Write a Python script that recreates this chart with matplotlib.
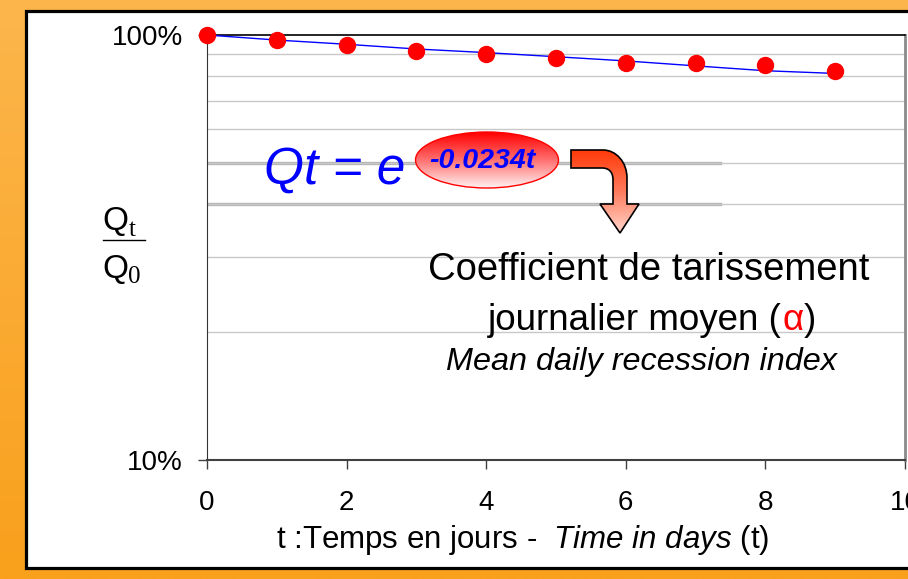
"""
Courbe de tarissement : Qt/Q0 en fonction du temps (échelle log).
"""

import numpy as np
import matplotlib
matplotlib.use("Agg")
import matplotlib.pyplot as plt
from matplotlib.patches import Rectangle, Ellipse, PathPatch
from matplotlib.path import Path
from matplotlib.colors import LinearSegmentedColormap
from matplotlib.ticker import FixedLocator, NullFormatter

plt.rcParams["font.family"] = ["Liberation Sans", "DejaVu Sans"]
plt.rcParams["mathtext.fontset"] = "custom"
plt.rcParams["mathtext.rm"] = "Liberation Sans"
plt.rcParams["mathtext.it"] = "Liberation Sans:italic"

# ── données ──
days = [0, 1, 2, 3, 4, 5, 6, 7, 8, 9]
ratio = [1.0, 0.973, 0.947, 0.918, 0.901, 0.884, 0.858, 0.858, 0.850, 0.824]
trend = [1.0, 0.973, 0.951, 0.927, 0.909, 0.889, 0.869, 0.846, 0.824, 0.812]
x_ticks = [0, 2, 4, 6, 8, 10]
y_ticks = [0.1, 1.0]
y_tick_labels = ["10%", "100%"]
grid_levels = [0.2, 0.3, 0.4, 0.5, 0.6, 0.7, 0.8, 0.9]
band_levels = [0.5, 0.4]
equation = "Qt = e"
exponent = "-0.0234t"

W, H = 908, 579
fig = plt.figure(figsize=(W / 100, H / 100), dpi=100)

# ── fond orange + cadre ──
bg = fig.add_axes([0, 0, 1, 1], zorder=0)
grad = np.linspace(0, 1, 256).reshape(-1, 1)
orange = LinearSegmentedColormap.from_list("orange", ["#fcb64c", "#f9a01c"])
bg.imshow(grad, cmap=orange, extent=[0, W, H, 0], aspect="auto")
bg.add_patch(Rectangle((25.5, 11), 920, 556.5, facecolor="white",
                       edgecolor="black", linewidth=2.3))
bg.set_xlim(0, W)
bg.set_ylim(H, 0)
bg.axis("off")

# ── graphique principal ──
ax = fig.add_axes([207 / W, 1 - 460 / H, 698 / W, 425 / H], zorder=1)
ax.set_facecolor("white")
ax.set_yscale("log")
ax.set_xlim(0, 10)
ax.set_ylim(0.1, 1.0)

ax.yaxis.set_major_locator(FixedLocator(y_ticks))
ax.set_yticklabels(y_tick_labels)
ax.yaxis.set_minor_locator(FixedLocator(grid_levels))
ax.yaxis.set_minor_formatter(NullFormatter())
ax.set_xticks(x_ticks)
ax.set_xticklabels([str(v) for v in x_ticks])

ax.grid(which="minor", axis="y", color="#c8c8c8", linewidth=1)
for lv in band_levels:
    ax.axhline(lv, xmin=0, xmax=0.735, color="#b4b4b4", linewidth=2.4, zorder=1)

ax.tick_params(axis="both", which="major", direction="out", length=6.5,
               width=1, color="#404040", labelsize=20)
ax.tick_params(axis="y", which="minor", length=0)
ax.tick_params(axis="y", which="major", pad=11)
ax.tick_params(axis="x", which="major", pad=15)

ax.spines["top"].set_color("black")
ax.spines["top"].set_linewidth(1.2)
ax.spines["right"].set_color("#8a8a8a")
ax.spines["right"].set_linewidth(2)
ax.spines["left"].set_color("#333333")
ax.spines["bottom"].set_color("#404040")
ax.spines["bottom"].set_linewidth(1.5)

ax.plot(days, trend, color="#0000ff", linewidth=1, zorder=3)
ax.plot(days, ratio, "o", color="#ff0000", markersize=11.5,
        clip_on=False, zorder=4)

# ── annotations (coordonnées en pixels) ──
fg = fig.add_axes([0, 0, 1, 1], zorder=2)
fg.patch.set_alpha(0)

fg.text(264, 184, equation, color="#0000ff", fontsize=37, style="italic",
        ha="left", va="baseline")

ell = Ellipse((487, 160), 143, 56, facecolor="none", edgecolor="#ff0000",
              linewidth=1)
fg.add_patch(ell)
reds = LinearSegmentedColormap.from_list("reds", ["#ff0000", "#ff7070", "#fff2f2"])
img = fg.imshow(grad, cmap=reds, extent=[415, 559, 188, 132], aspect="auto")
img.set_clip_path(ell)
fg.text(482, 161, exponent, color="#0000ff", fontsize=20.5, weight="bold",
        style="italic", ha="center", va="center")

# flèche coudée
verts = [(571, 150), (603, 150),
         (616, 150), (627, 162), (627, 178),
         (627, 204), (639, 204), (620, 233), (600, 204), (613, 204),
         (613, 180),
         (613, 172), (609, 168), (602, 168),
         (571, 168), (571, 150)]
codes = [Path.MOVETO, Path.LINETO,
         Path.CURVE4, Path.CURVE4, Path.CURVE4,
         Path.LINETO, Path.LINETO, Path.LINETO, Path.LINETO, Path.LINETO,
         Path.LINETO,
         Path.CURVE4, Path.CURVE4, Path.CURVE4,
         Path.LINETO, Path.CLOSEPOLY]
arrow = PathPatch(Path(verts, codes), facecolor="none", edgecolor="black",
                  linewidth=1.2, zorder=3)
fg.add_patch(arrow)
arr_cmap = LinearSegmentedColormap.from_list("arr", ["#ff3300", "#ff7a5c", "#ffdcd2"])
aimg = fg.imshow(grad, cmap=arr_cmap, extent=[565, 645, 236, 146], aspect="auto")
aimg.set_clip_path(arrow)

# Qt / Q0 (fraction construite à la main)
fg.text(102, 230, "Q", fontsize=24, ha="left", va="baseline")
fg.text(129, 236, "t", fontsize=18, family="Liberation Serif",
        ha="left", va="baseline")
fg.plot([103, 145], [240, 240], color="black", linewidth=1)
fg.text(102, 278, "Q", fontsize=24, ha="left", va="baseline")
fg.text(128, 283, "0", fontsize=18, family="Liberation Serif",
        ha="left", va="baseline")

# axe des x
fg.text(523, 540, r"t :Temps en jours -  $\mathit{Time\ in\ days}$ (t)",
        fontsize=22.5, ha="center", va="center")

fg.text(649, 270, "Coefficient de tarissement", fontsize=27.5,
        ha="center", va="center")

renderer = fig.canvas.get_renderer()
parts = [("journalier moyen (", "black"), ("α", "#ff0000"), (")", "black")]
texts = []
for s, c in parts:
    t = fg.text(0, 320, s, color=c, fontsize=26.5, ha="left", va="center")
    texts.append(t)
widths = [t.get_window_extent(renderer).width for t in texts]
x0 = 652 - sum(widths) / 2
for t, w in zip(texts, widths):
    t.set_x(x0)
    x0 += w

fg.text(642, 362, "Mean daily recession index", fontsize=23.3, style="italic",
        ha="center", va="center")

fg.set_xlim(0, W)
fg.set_ylim(H, 0)
fg.axis("off")

plt.savefig("out.png", dpi=100)
plt.close()
